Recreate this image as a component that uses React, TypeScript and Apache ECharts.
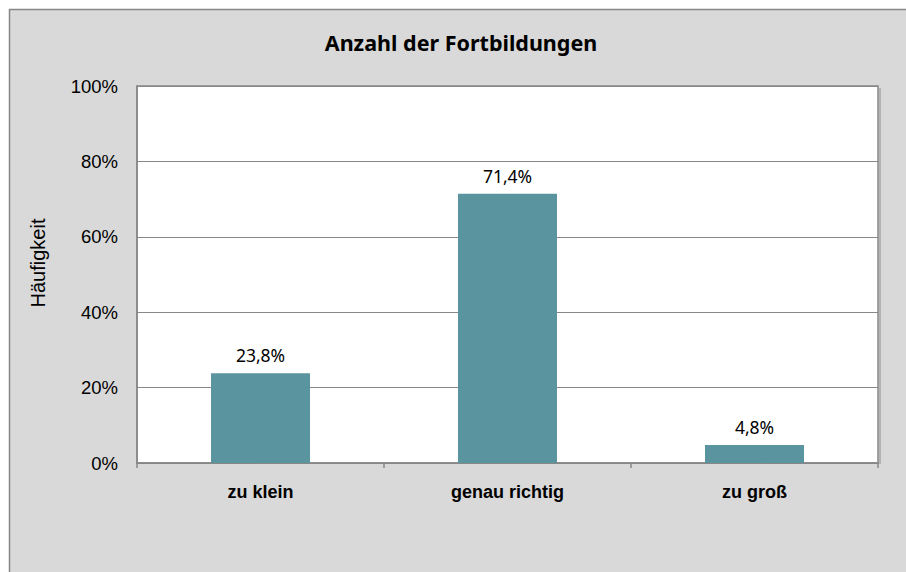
import React, { useEffect, useRef } from "react";
import * as echarts from "echarts";

const categories = ["zu klein", "genau richtig", "zu groß"];
const values = [23.8, 71.4, 4.8];
const yTicks = [0, 20, 40, 60, 80, 100];
const titleText = "Anzahl der Fortbildungen";
const yAxisTitle = "Häufigkeit";

export default function App() {
  const ref = useRef<HTMLDivElement>(null);
  useEffect(() => {
    if (!ref.current) return;
    const chart = echarts.init(ref.current, null, { renderer: "svg" });
    const gray = "#878787";
    chart.setOption({
      animation: false,
      backgroundColor: "#ffffff",
      graphic: [
        {
          type: "rect",
          z: -10,
          silent: true,
          shape: { x: 9.5, y: 9.5, width: 1000, height: 1000 },
          style: { fill: "#d9d9d9", stroke: gray, lineWidth: 1.5 },
        },
        {
          type: "line",
          z: 10,
          silent: true,
          shape: { x1: 880, y1: 88, x2: 880, y2: 464 },
          style: { stroke: "#a6a6a6", lineWidth: 1.5 },
        },
        {
          type: "text",
          x: 461,
          y: 42,
          style: {
            text: titleText,
            fontFamily: "Noto Sans",
            fontWeight: "bold",
            fontSize: 21.5,
            fill: "#000",
            align: "center",
            verticalAlign: "middle",
          },
        },
        {
          type: "text",
          x: 38,
          y: 263,
          rotation: Math.PI / 2,
          style: {
            text: yAxisTitle,
            fontFamily: "Liberation Sans",
            fontSize: 20,
            fill: "#000",
            align: "center",
            verticalAlign: "middle",
          },
        },
      ],
      grid: {
        left: 137,
        top: 86,
        width: 741,
        height: 377,
        show: true,
        backgroundColor: "#ffffff",
        borderColor: gray,
        borderWidth: 1.5,
        outerBoundsMode: "none",
        containLabel: false,
      },
      xAxis: {
        type: "category",
        data: categories,
        axisLine: { show: true, lineStyle: { color: gray, width: 1.5 } },
        axisTick: { show: true, length: 5, lineStyle: { color: gray, width: 1.5 } },
        axisLabel: {
          margin: 20,
          fontFamily: "Liberation Sans",
          fontWeight: "bold",
          fontSize: 18,
          color: "#000",
        },
      },
      yAxis: {
        type: "value",
        min: yTicks[0],
        max: yTicks[yTicks.length - 1],
        interval: 20,
        axisLine: { show: true, lineStyle: { color: gray, width: 1.5 } },
        axisTick: { show: false },
        splitLine: { show: true, lineStyle: { color: gray, width: 1.2 } },
        axisLabel: {
          margin: 19,
          fontFamily: "Liberation Sans",
          fontSize: 18.5,
          color: "#000",
          formatter: (v: number) => `${v}%`,
        },
      },
      series: [
        {
          type: "bar",
          data: values,
          barWidth: 99,
          itemStyle: { color: "#5a949f" },
          label: {
            show: true,
            position: "top",
            distance: 9,
            fontFamily: "Noto Sans",
            fontSize: 17.5,
            color: "#000",
            formatter: (p: any) => `${p.value.toFixed(1).replace(".", ",")}%`,
          },
        },
      ],
    });
    return () => chart.dispose();
  }, []);
  return (
    <div
      ref={ref}
      style={{ position: "absolute", left: 0, top: 0, width: 906, height: 572 }}
    />
  );
}
